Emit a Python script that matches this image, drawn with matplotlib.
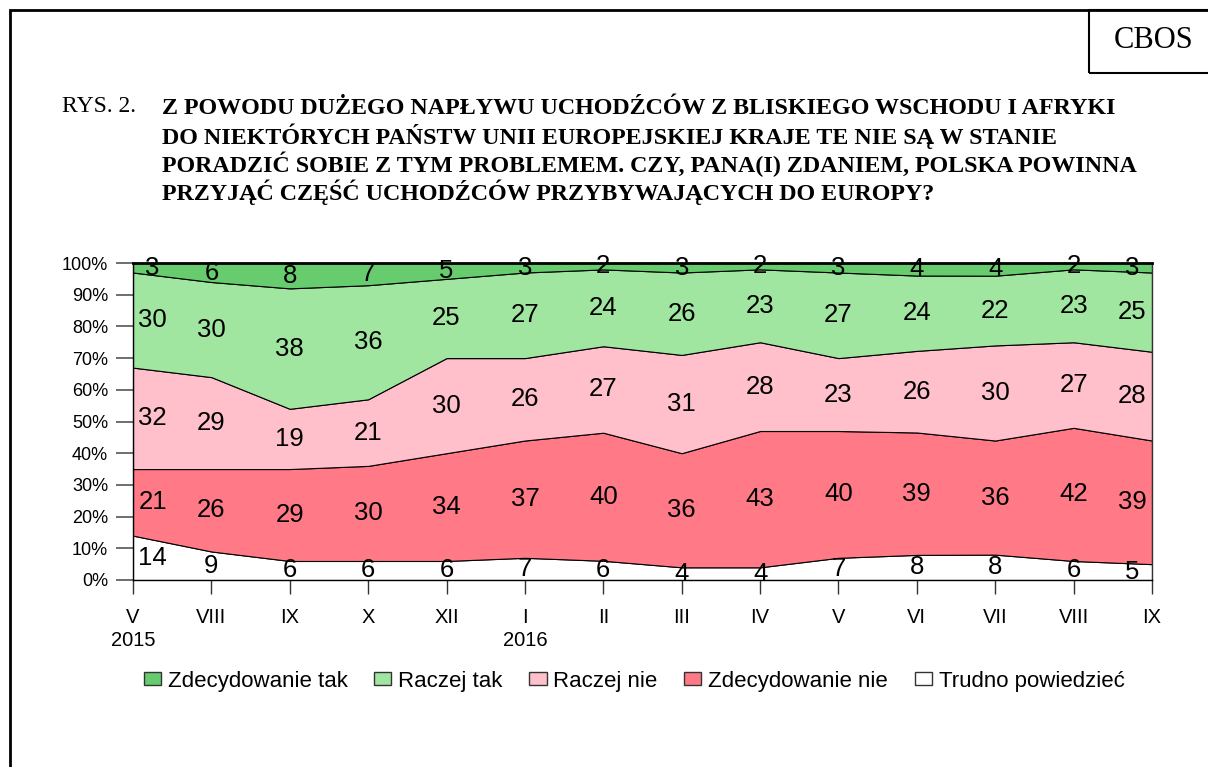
import numpy as np
import matplotlib
matplotlib.use("Agg")
import matplotlib.pyplot as plt
from matplotlib.patches import Rectangle

months = ["V\n2015", "VIII", "IX", "X", "XII", "I\n2016", "II", "III", "IV", "V", "VI", "VII", "VIII", "IX"]
series_names = ["Zdecydowanie tak", "Raczej tak", "Raczej nie", "Zdecydowanie nie", "Trudno powiedzieć"]
trudno = [14, 9, 6, 6, 6, 7, 6, 4, 4, 7, 8, 8, 6, 5]
zdec_nie = [21, 26, 29, 30, 34, 37, 40, 36, 43, 40, 39, 36, 42, 39]
raczej_nie = [32, 29, 19, 21, 30, 26, 27, 31, 28, 23, 26, 30, 27, 28]
raczej_tak = [30, 30, 38, 36, 25, 27, 24, 26, 23, 27, 24, 22, 23, 25]
zdec_tak = [3, 6, 8, 7, 5, 3, 2, 3, 2, 3, 4, 4, 2, 3]
colors = {"Zdecydowanie tak": "#66CC6E", "Raczej tak": "#A0E6A0", "Raczej nie": "#FFC0CB",
          "Zdecydowanie nie": "#FF7A86", "Trudno powiedzieć": "#FFFFFF"}

title_lines = ["Z POWODU DUŻEGO NAPŁYWU UCHODŹCÓW Z BLISKIEGO WSCHODU I AFRYKI",
               "DO NIEKTÓRYCH PAŃSTW UNII EUROPEJSKIEJ KRAJE TE NIE SĄ W STANIE",
               "PORADZIĆ SOBIE Z TYM PROBLEMEM. CZY, PANA(I) ZDANIEM, POLSKA POWINNA",
               "PRZYJĄĆ CZĘŚĆ UCHODŹCÓW PRZYBYWAJĄCYCH DO EUROPY?"]

W, H = 1208, 767
fig = plt.figure(figsize=(W / 100, H / 100), dpi=100)
fig.patch.set_facecolor("white")

# outer frame and CBOS box
fig.add_artist(Rectangle((10 / W, -0.01), (W - 10) / W + 0.02, (H - 10) / H + 0.01,
                         transform=fig.transFigure, fill=False, lw=2, ec="black"))
fig.add_artist(Rectangle((1089 / W, 1 - 73 / H), (W - 1089) / W + 0.02, 63 / H,
                         transform=fig.transFigure, fill=False, lw=1.5, ec="black"))
fig.text(1154 / W, 1 - 41 / H, "CBOS", family="Liberation Serif", fontsize=22,
         ha="center", va="center")
fig.text(62 / W, 1 - 107 / H, "RYS. 2.", family="Liberation Serif", fontsize=17,
         ha="left", va="center")
for i, line in enumerate(title_lines):
    fig.text(162 / W, 1 - (108 + 28 * i) / H, line, family="Liberation Serif",
             fontsize=17.3, fontweight="bold", ha="left", va="center")

ax = fig.add_axes([133 / W, 1 - 580 / H, (1152 - 133) / W, (580 - 263) / H])
x = np.arange(len(months))
stack_order = [trudno, zdec_nie, raczej_nie, raczej_tak, zdec_tak]
stack_names = ["Trudno powiedzieć", "Zdecydowanie nie", "Raczej nie", "Raczej tak", "Zdecydowanie tak"]
raw = np.array(stack_order, dtype=float)
norm = raw / raw.sum(axis=0) * 100
polys = ax.stackplot(x, norm, colors=[colors[n] for n in stack_names],
                     edgecolor="black", linewidth=0.8)

cum = np.cumsum(norm, axis=0)
label_x = x.astype(float).copy()
label_x[0] += 0.25
label_x[-1] -= 0.25
for k in range(len(stack_names)):
    mids = cum[k] - norm[k] / 2
    for j in range(len(x)):
        ax.text(label_x[j], mids[j], str(int(raw[k][j])), ha="center", va="center",
                fontsize=18.5, family="Liberation Sans")

ax.set_xlim(0, len(months) - 1)
ax.set_ylim(0, 100)
ax.set_yticks(np.arange(0, 101, 10))
ax.set_yticklabels([f"{v}%" for v in range(0, 101, 10)], family="Liberation Sans", fontsize=13)
ax.set_xticks(x)
ax.set_xticklabels(months, family="Liberation Sans", fontsize=14.5, linespacing=1.3)
ax.tick_params(axis="y", length=12, width=1.2, color="#555555", pad=6)
ax.tick_params(axis="x", length=10, width=1, color="#333333", pad=10)
for s in ["left", "bottom"]:
    ax.spines[s].set_linewidth(1)
ax.spines["top"].set_linewidth(2)
ax.spines["right"].set_linewidth(1)
ax.spines["right"].set_color("#333333")

handles = [Rectangle((0, 0), 1, 1, fc=colors[n], ec="#333333", lw=1) for n in series_names]
leg = fig.legend(handles, series_names, loc="center", bbox_to_anchor=(634 / W, 1 - 681 / H),
                 ncol=5, frameon=False, prop={"family": "Liberation Sans", "size": 16},
                 handlelength=0.78, handleheight=0.55, handletextpad=0.3, columnspacing=1.2,
                 borderaxespad=0)

fig.savefig("out.png", dpi=100, facecolor="white")
